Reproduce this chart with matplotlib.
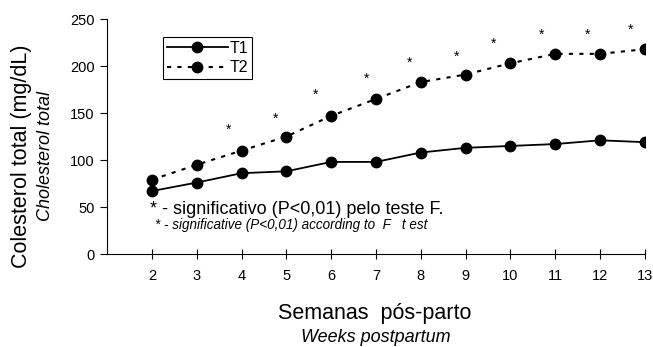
import matplotlib
matplotlib.use("Agg")
import matplotlib.pyplot as plt

plt.rcParams['font.family'] = ['Liberation Sans', 'DejaVu Sans']

semanas = [2, 3, 4, 5, 6, 7, 8, 9, 10, 11, 12, 13]
t1 = [67, 76, 86, 88, 98, 98, 108, 113, 115, 117, 121, 119]
t2 = [79, 95, 110, 125, 147, 165, 183, 191, 203, 213, 213, 218]

# asteriscos de significancia
ast_x = [3.70, 4.75, 5.64, 6.78, 7.74, 8.79, 9.62, 10.69, 11.72, 12.68]
ast_y = [132, 144, 169, 186, 203, 210, 224, 233, 233, 239]

fig = plt.figure(figsize=(6.53, 3.47), dpi=100)
ax = fig.add_axes([0.1639, 0.268, 0.8238, 0.677])

ax.plot(semanas, t1, '-', color='black', lw=1.3, marker='o', ms=7.5, label='T1')
ax.plot(semanas, t2, color='black', lw=1.5, ls=(0, (2, 3)), marker='o', ms=7.5, label='T2')

for x, y in zip(ast_x, ast_y):
    ax.text(x, y, '*', ha='center', va='center', fontsize=10)

ax.set_xlim(1, 13)
ax.set_ylim(0, 250)
ax.set_xticks(semanas)
ax.set_yticks([0, 50, 100, 150, 200, 250])
ax.tick_params(axis='x', direction='inout', length=7, labelsize=10.5, pad=7)
ax.tick_params(axis='y', direction='out', length=5, labelsize=10.5, pad=4)
ax.spines['top'].set_visible(False)
ax.spines['right'].set_visible(False)

leg = ax.legend(loc='upper left', bbox_to_anchor=(0.104, 0.925), fancybox=False,
                edgecolor='black', framealpha=1, fontsize=11.5, handlelength=3.8,
                borderpad=0.25, labelspacing=0.3, handletextpad=0.1,
                borderaxespad=0)
leg.get_frame().set_linewidth(0.8)

ax.text(1.96, 47, '* - significativo (P<0,01) pelo teste F.', fontsize=13, va='center')
ax.text(2.07, 31, '* - significative (P<0,01) according to  F   t est', fontsize=9.75,
        style='italic', va='center')

fig.text(22 / 653, 1 - 156 / 347, 'Colesterol total (mg/dL)', rotation=90,
         ha='center', va='center', fontsize=15.5)
fig.text(46 / 653, 1 - 156 / 347, 'Cholesterol total', rotation=90,
         ha='center', va='center', fontsize=13, style='italic')
fig.text(375 / 653, 1 - 313 / 347, 'Semanas  pós-parto', ha='center', va='center',
         fontsize=15.5)
fig.text(376 / 653, 1 - 338 / 347, 'Weeks postpartum', ha='center', va='center',
         fontsize=13, style='italic')

fig.savefig('out.png', dpi=100)
